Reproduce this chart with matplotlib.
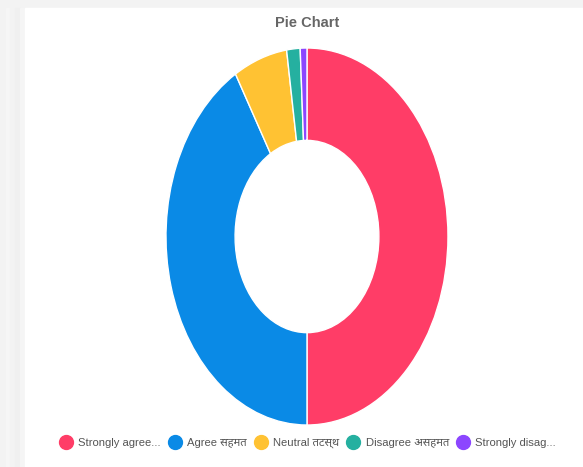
import matplotlib.pyplot as plt
from matplotlib.lines import Line2D
from matplotlib.patches import Rectangle

labels = ['Strongly agree...', 'Agree सहमत', 'Neutral तटस्थ', 'Disagree असहमत', 'Strongly disag...']
counts = [65, 54, 8, 2, 1]
colors = ['#ff3d67', '#0a8ae6', '#ffc233', '#25b0a0', '#8c46ff']

fonts = ['Liberation Sans', 'Noto Sans Devanagari', 'Lohit Devanagari', 'FreeSans', 'DejaVu Sans']
plt.rcParams['font.family'] = fonts

fig = plt.figure(figsize=(5.83, 4.67), dpi=100)
fig.patch.set_facecolor('#f3f3f3')
# white card with a soft shadow on the left
for i, c in enumerate(['#f6f6f6', '#f3f3f3', '#f0f0f0', '#f5f5f5']):
    fig.patches.append(Rectangle((0.010 + i * 0.008, 0), 0.008, 0.983,
                                 transform=fig.transFigure, color=c, zorder=-2))
fig.patches.append(Rectangle((0.043, 0), 0.957, 0.983, transform=fig.transFigure,
                             color='white', zorder=-1))

ax = fig.add_axes([0.2847, 0.0899, 0.4837, 0.8073])
ax.patch.set_visible(False)
wedges, _ = ax.pie(counts, colors=colors, startangle=90, counterclock=False,
                   wedgeprops=dict(width=0.49, edgecolor='white', linewidth=1))
ax.set_aspect('auto')
ax.set_xlim(-1, 1)
ax.set_ylim(-1, 1)

fig.suptitle('Pie Chart', x=0.527, y=0.951, fontsize=10.5, fontweight='bold',
             color='#666666', va='center')

handles = [Line2D([], [], linestyle='none', marker='o', markersize=10,
                  markerfacecolor=c, markeredgecolor=c) for c in colors]
leg = fig.legend(handles, labels, loc='center', bbox_to_anchor=(0.527, 0.051),
                 ncol=5, frameon=False, fontsize=8.1, handlelength=1.3,
                 handletextpad=0.45, columnspacing=0.6, borderaxespad=0)
for t in leg.get_texts():
    t.set_color('#555555')

plt.savefig('out.png', dpi=100, facecolor=fig.get_facecolor())
